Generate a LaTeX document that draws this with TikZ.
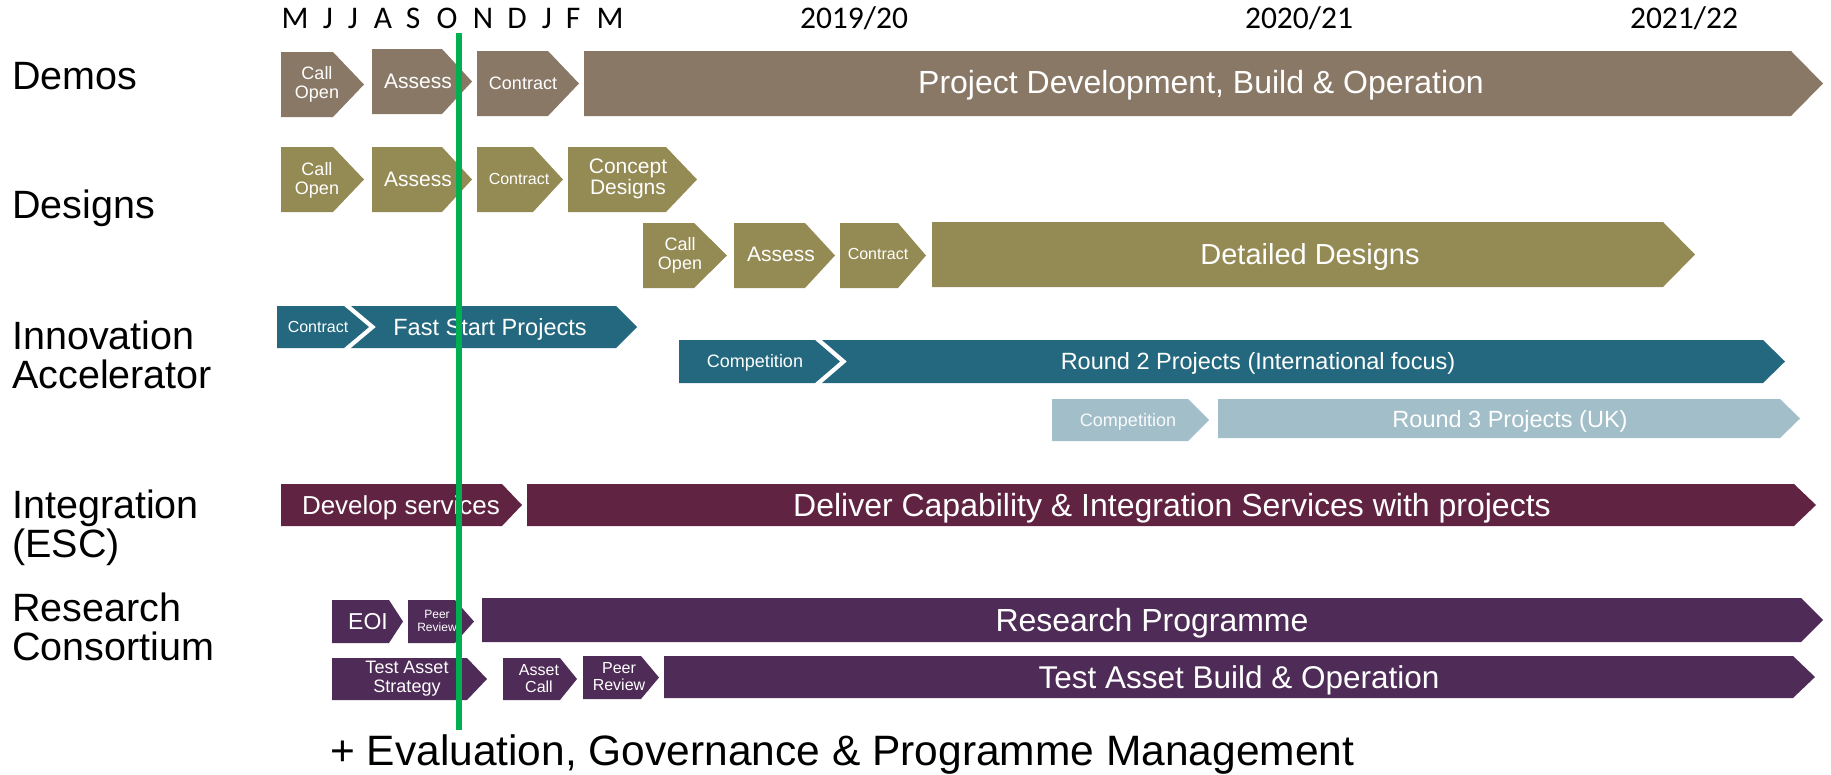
\documentclass[tikz,border=0pt]{standalone}
\usepackage{fontspec}
\setmainfont{Liberation Sans}
\newfontfamily\calib{Carlito}
\definecolor{cDemo}{HTML}{8A7866}
\definecolor{cDes}{HTML}{948A54}
\definecolor{cTeal}{HTML}{23687E}
\definecolor{cLight}{HTML}{A1BEC9}
\definecolor{cMaroon}{HTML}{612342}
\definecolor{cPurple}{HTML}{4F2B57}
\definecolor{cGreen}{HTML}{00B050}
% left, body end, tip, top, bottom, notch depth, colour
\newcommand\chev[7]{\fill[#7] (#1,#4) -- (#2,#4) -- (#3,{(#4+#5)/2}) -- (#2,#5) -- (#1,#5) -- ({#1+#6},{(#4+#5)/2}) -- cycle;}
\newcommand\fsz[2]{\fontsize{#1}{#2}\selectfont}
\tikzset{
  lab/.style={text=white, inner sep=0pt, align=center},
  one/.style={text=white, inner sep=0pt, anchor=base},
  rowlab/.style={inner sep=0pt, align=left, anchor=base west, font=\fsz{39.5}{39}},
  mon/.style={inner sep=0pt, anchor=base, font=\calib\fsz{31.5}{31.5}},
}
\begin{document}
\begin{tikzpicture}[x=1pt,y=-1pt]
\useasboundingbox (0,0) rectangle (1831,774);
% header
\foreach \l/\x [count=\i] in {M/295,J/328,J/353,A/383,S/413,O/447,N/483,D/517,J/547,F/573,M/610}
  \node[mon] (m\i) at (\x,28) {\l};
\node[mon] (y1) at (854,28) {2019/20};
\node[mon] (y2) at (1299,28) {2020/21};
\node[mon] (y3) at (1684,28) {2021/22};
% row labels
\node[rowlab] (lDemos) at (12,89) {Demos};
\node[rowlab] (lDesigns) at (12,218) {Designs};
\node[rowlab] (lInno) at (12,388) {Innovation\\Accelerator};
\node[rowlab] (lInt) at (12,557) {Integration\\(ESC)};
\node[rowlab] (lRes) at (12,660) {Research\\Consortium};
% Demos
\chev{281}{333}{364}{52}{117}{0}{cDemo}
\node[lab, font=\fsz{18}{19}] (dCall) at (317,84) {Call\\Open};
\chev{372}{442}{472}{49}{114}{0}{cDemo}
\node[one, font=\fsz{21}{21}] (dAssess) at (418,88.5) {Assess};
\chev{477}{548}{579}{51}{116}{0}{cDemo}
\node[one, font=\fsz{18}{18}] (dContract) at (523,89.4) {Contract};
\chev{584}{1791}{1823}{51}{116}{0}{cDemo}
\node[one, font=\fsz{32}{32}] (dProj) at (1201,93.5) {Project Development, Build \& Operation};
% Designs row 1
\chev{281}{333}{364}{147}{212}{0}{cDes}
\node[lab, font=\fsz{18}{19}] (gCall) at (317,180) {Call\\Open};
\chev{372}{442}{472}{147}{212}{0}{cDes}
\node[one, font=\fsz{21}{21}] (gAssess) at (418,186.5) {Assess};
\chev{477}{533}{563}{147}{212}{0}{cDes}
\node[one, font=\fsz{16}{16}] (gContract) at (519,184.7) {Contract};
\chev{568}{666}{697}{147}{212}{0}{cDes}
\node[lab, font=\fsz{21}{21}] (gConcept) at (628,179) {Concept\\Designs};
% Designs row 2
\chev{643}{694}{727}{223}{288}{0}{cDes}
\node[lab, font=\fsz{18}{19}] (hCall) at (680,255) {Call\\Open};
\chev{734}{805}{835}{223}{288}{0}{cDes}
\node[one, font=\fsz{21}{21}] (hAssess) at (781,261.5) {Assess};
\chev{840}{898}{926}{223}{288}{0}{cDes}
\node[one, font=\fsz{16}{16}] (hContract) at (878,259.7) {Contract};
\chev{932}{1663}{1695}{222}{287}{0}{cDes}
\node[one, font=\fsz{29}{29}] (hDetailed) at (1310,264.4) {Detailed Designs};
% Innovation row 1
\chev{277}{344}{369}{306}{348}{0}{cTeal}
\node[one, font=\fsz{16}{16}] (iContract) at (318,332.7) {Contract};
\chev{351}{616}{637}{306}{348}{25}{cTeal}
\node[one, font=\fsz{23.5}{24}] (iFast) at (490,335.4) {Fast Start Projects};
% Innovation row 2
\chev{679}{815}{840}{340}{383}{0}{cTeal}
\node[one, font=\fsz{18}{18}] (iComp) at (755,367.4) {Competition};
\chev{822}{1763}{1785}{340}{383}{25}{cTeal}
\node[one, font=\fsz{23.5}{24}] (iRound2) at (1258,369.4) {Round 2 Projects (International focus)};
% Innovation row 3
\chev{1052}{1188}{1209}{399}{441}{0}{cLight}
\node[one, text=white!92!cLight, font=\fsz{18}{18}] (iComp3) at (1128,426.4) {Competition};
\chev{1218}{1780}{1800}{399}{438}{0}{cLight}
\node[one, font=\fsz{23.5}{24}] (iRound3) at (1510,427.4) {Round 3 Projects (UK)};
% Integration
\chev{281}{502}{522}{484}{526}{0}{cMaroon}
\node[one, font=\fsz{26}{26}] (eDev) at (401,514.3) {Develop services};
\chev{527}{1794}{1816}{484}{526}{0}{cMaroon}
\node[one, font=\fsz{32}{32}] (eDeliver) at (1172,516.5) {Deliver Capability \& Integration Services with projects};
% Research row 1
\chev{332}{389}{403}{600}{643}{0}{cPurple}
\node[one, font=\fsz{23}{23}] (rEOI) at (368,629.2) {EOI};
\chev{408}{455}{474}{600}{643}{0}{cPurple}
\node[lab, font=\fsz{12}{13}] (rPeer) at (437,621) {Peer\\Review};
\chev{482}{1801}{1823}{598}{642}{0}{cPurple}
\node[one, font=\fsz{32}{32}] (rProg) at (1152,631.5) {Research Programme};
% Research row 2
\chev{332}{467}{487}{658}{700}{0}{cPurple}
\node[lab, font=\fsz{18}{19}] (rStrat) at (407,679) {Test Asset\\Strategy};
\chev{503}{560}{577}{658}{700}{0}{cPurple}
\node[lab, font=\fsz{16}{17}] (rCall) at (539,679) {Asset\\Call};
\chev{583}{641}{659}{656}{699}{0}{cPurple}
\node[lab, font=\fsz{16}{17}] (rPeer2) at (619,677) {Peer\\Review};
\chev{664}{1793}{1815}{656}{698}{0}{cPurple}
\node[one, font=\fsz{31.5}{32}] (rBuild) at (1239,688.3) {Test Asset Build \& Operation};
% green "now" line
\coordinate (gtop) at (459,33);
\coordinate (gbot) at (459,730);
\draw[cGreen, line width=6pt] (gtop) -- (gbot);
% footer
\node[inner sep=0pt, anchor=base west, font=\fsz{42.5}{43}] (foot) at (330,765) {+ Evaluation, Governance \& Programme Management};
\end{tikzpicture}
\end{document}
